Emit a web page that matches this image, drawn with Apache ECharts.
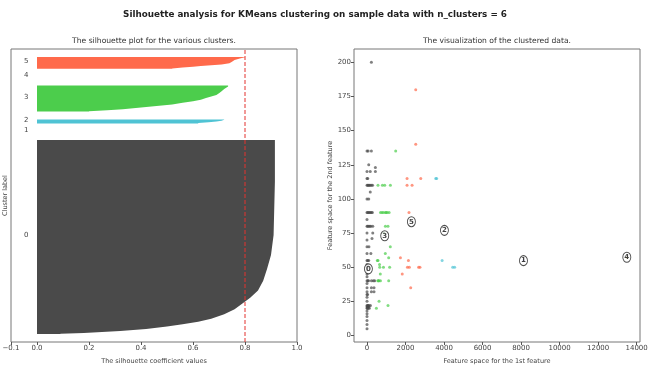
<!DOCTYPE html>
<html>
<head>
<meta charset="utf-8">
<script src="https://cdn.jsdelivr.net/npm/echarts@6/dist/echarts.min.js"></script>
<style>
html, body { margin: 0; padding: 0; background: #fff; }
#chart { width: 659px; height: 365px; }
</style>
</head>
<body>
<div id="chart"></div>
<script>
var FONT = "'DejaVu Sans', sans-serif";

var clusterIds = [0, 1, 2, 3, 4, 5];
var clusterColors = ['#4a4a4a', '#5b5bd6', '#4fc3d4', '#4ccd4c', '#d6d64c', '#ff6a4b'];

// silhouette values of each cluster, sorted ascending, as [sample count, value] runs
var silRuns0 = [[1, 0.09], [1, 0.18], [1, 0.25], [2, 0.32], [3, 0.42], [3, 0.5], [3, 0.56], [3, 0.62],
    [5, 0.67], [6, 0.72], [7, 0.76], [7, 0.79], [8, 0.82], [10, 0.85], [15, 0.87], [15, 0.885],
    [20, 0.9], [30, 0.91], [105, 0.915]];
var silRuns1 = [[1, 0]];
var silRuns2 = [[1, 0.62], [1, 0.66], [1, 0.69], [1, 0.71], [1, 0.72]];
var silRuns3 = [[1, 0.2], [1, 0.27], [2, 0.33], [2, 0.4], [2, 0.46], [2, 0.52], [2, 0.56], [2, 0.6],
    [2, 0.63], [2, 0.65], [2, 0.67], [2, 0.69], [2, 0.7], [3, 0.71], [3, 0.72], [3, 0.735]];
var silRuns4 = [[1, 0]];
var silRuns5 = [[1, 0.52], [1, 0.56], [1, 0.6], [1, 0.63], [1, 0.67], [1, 0.71], [2, 0.74], [2, 0.75],
    [2, 0.76], [2, 0.78], [1, 0.8]];
var silRuns = [silRuns0, silRuns1, silRuns2, silRuns3, silRuns4, silRuns5];
var silhouetteAvg = 0.8;

var silXTicks = [-0.1, 0, 0.2, 0.4, 0.6, 0.8, 1.0];
var featXTicks = [0, 2000, 4000, 6000, 8000, 10000, 12000, 14000];
var featYTicks = [0, 25, 50, 75, 100, 125, 150, 175, 200];

// feature space points per cluster: [1st feature, 2nd feature]
var points0 = [[228, 200], [0, 135], [60, 135], [228, 135], [90, 125], [435, 123],
    [0, 120], [170, 120], [435, 120], [0, 115], [40, 115],
    [0, 110], [40, 110], [80, 110], [120, 110], [170, 110], [230, 110], [290, 110], [170, 105],
    [0, 100], [90, 100], [0, 90], [40, 90], [80, 90], [130, 90], [180, 90], [230, 90], [280, 90],
    [0, 85], [0, 80], [40, 80], [90, 80], [150, 80], [200, 80], [300, 80], [0, 75], [300, 75],
    [260, 71], [0, 70], [0, 65], [100, 65], [0, 60], [200, 60], [0, 55], [40, 55], [90, 55],
    [0, 52], [0, 50], [30, 50], [0, 48], [0, 45], [0, 43],
    [0, 40], [40, 40], [80, 40], [230, 40], [330, 40], [400, 40], [0, 38],
    [0, 35], [228, 35], [365, 35], [0, 32], [228, 32], [365, 32], [0, 30], [30, 30], [0, 28], [0, 25],
    [0, 22], [40, 22], [60, 22], [100, 22], [180, 22], [0, 21], [40, 21], [100, 21],
    [0, 20], [30, 20], [60, 20], [120, 20], [0, 18], [0, 16], [0, 14], [0, 11], [0, 8], [0, 5]];
var points1 = [[8125, 55]];
var points2 = [[3570, 115], [3620, 115], [3900, 55], [4450, 50], [4550, 50]];
var points3 = [[1490, 135], [570, 110], [800, 110], [920, 110], [1215, 110],
    [700, 90], [780, 90], [850, 90], [950, 90], [1000, 90], [1050, 90], [1150, 90],
    [955, 80], [1090, 80], [880, 75], [1210, 65], [950, 60], [1125, 57], [570, 55], [536, 55],
    [650, 52], [660, 50], [855, 50], [1176, 50], [690, 45],
    [560, 40], [600, 40], [620, 40], [700, 40], [1127, 40], [625, 25], [1092, 22], [488, 20]];
var points4 = [[13490, 57]];
var points5 = [[2530, 180], [2530, 140], [2080, 115], [2790, 115], [2080, 110], [2340, 110], [2180, 90],
    [1735, 57], [2150, 55], [2100, 50], [2200, 50], [2680, 50], [2750, 50], [1830, 45], [2270, 35]];
var points = [points0, points1, points2, points3, points4, points5];

var centers = [[73, 48.8], [8125, 54.8], [4020, 77], [920, 73], [13490, 57.3], [2306, 83.3]];

// vertical layout of the silhouette plot (10 empty units between clusters)
var yLower = [];
var yPos = 10;
silRuns.forEach(function (runs) {
    yLower.push(yPos);
    var n = 0;
    runs.forEach(function (r) { n += r[0]; });
    yPos += n + 10;
});
var yTotal = yPos;

var myChart = echarts.init(document.getElementById('chart'));

var tickStyle = { show: true, length: 3, lineStyle: { color: '#555', width: 1 } };
var labelStyle = { color: '#444', fontSize: 7, fontFamily: FONT, margin: 3 };
var nameStyle = { color: '#444', fontSize: 6.5, fontFamily: FONT };

var series = [];

series.push({
    type: 'custom',
    xAxisIndex: 0,
    yAxisIndex: 0,
    silent: true,
    data: clusterIds.map(function (i) { return [i]; }),
    renderItem: function (params, api) {
        var i = api.value(0);
        var runs = silRuns[i];
        var y = yLower[i];
        var pts = [api.coord([0, y]), api.coord([runs[0][1], y])];
        runs.forEach(function (r) {
            pts.push(api.coord([r[1], y + r[0] / 2]));
            y += r[0];
        });
        pts.push(api.coord([runs[runs.length - 1][1], y]));
        pts.push(api.coord([0, y]));
        var size = y - yLower[i];
        var lp = api.coord([-0.05, yLower[i] + 0.5 * size]);
        return {
            type: 'group',
            children: [
                { type: 'polygon', shape: { points: pts }, style: { fill: clusterColors[i] } },
                {
                    type: 'text', x: lp[0], y: lp[1] + 2,
                    style: {
                        text: String(i), fill: '#444', font: '7px ' + FONT,
                        textAlign: 'left', textVerticalAlign: 'bottom'
                    }
                }
            ]
        };
    }
});

series.push({
    type: 'line',
    xAxisIndex: 0,
    yAxisIndex: 0,
    silent: true,
    symbol: 'none',
    data: [[silhouetteAvg, 0], [silhouetteAvg, yTotal]],
    lineStyle: { color: '#e3332f', width: 1, type: [4, 2] }
});

clusterIds.forEach(function (i) {
    series.push({
        type: 'scatter',
        xAxisIndex: 1,
        yAxisIndex: 1,
        silent: true,
        symbol: 'circle',
        symbolSize: 3,
        data: points[i],
        itemStyle: { color: clusterColors[i], opacity: 0.7 }
    });
});

series.push({
    type: 'scatter',
    xAxisIndex: 1,
    yAxisIndex: 1,
    silent: true,
    symbol: 'circle',
    symbolSize: [8, 10],
    z: 5,
    data: centers,
    itemStyle: { color: '#fff', borderColor: '#222', borderWidth: 1 },
    label: {
        show: true, position: 'inside',
        formatter: function (p) { return String(p.dataIndex); },
        color: '#111', fontSize: 7, fontWeight: 'bold', fontFamily: FONT
    }
});

function gridBox(left) {
    return {
        left: left, top: 49, width: 286, height: 293, outerBoundsMode: 'none', containLabel: false,
        show: true, borderColor: '#777', borderWidth: 1, backgroundColor: 'transparent'
    };
}

var option = {
    animation: false,
    backgroundColor: '#fff',
    title: [
        { text: 'Silhouette analysis for KMeans clustering on sample data with n_clusters = 6', left: 315, top: 10, textAlign: 'center', padding: 0,
          textStyle: { fontSize: 8.8, fontWeight: 'bold', color: '#222', fontFamily: FONT } },
        { text: 'The silhouette plot for the various clusters.', left: 154, top: 37, textAlign: 'center', padding: 0,
          textStyle: { fontSize: 7.6, fontWeight: 'normal', color: '#333', fontFamily: FONT } },
        { text: 'The visualization of the clustered data.', left: 497, top: 37, textAlign: 'center', padding: 0,
          textStyle: { fontSize: 7.6, fontWeight: 'normal', color: '#333', fontFamily: FONT } }
    ],
    grid: [gridBox(11), gridBox(354)],
    xAxis: [
        {
            gridIndex: 0, type: 'value', min: -0.1, max: 1.0,
            name: 'The silhouette coefficient values', nameLocation: 'middle', nameGap: 16, nameTextStyle: nameStyle,
            axisLine: { show: false, onZero: false }, splitLine: { show: false },
            axisTick: Object.assign({ customValues: silXTicks }, tickStyle),
            axisLabel: Object.assign({
                customValues: silXTicks,
                formatter: function (v) { return v.toFixed(1).replace('-', '\u2212'); }
            }, labelStyle)
        },
        {
            gridIndex: 1, type: 'value', min: -675, max: 14175,
            name: 'Feature space for the 1st feature', nameLocation: 'middle', nameGap: 16, nameTextStyle: nameStyle,
            axisLine: { show: false, onZero: false }, splitLine: { show: false },
            axisTick: Object.assign({ customValues: featXTicks }, tickStyle),
            axisLabel: Object.assign({
                customValues: featXTicks,
                formatter: function (v) { return String(v); }
            }, labelStyle)
        }
    ],
    yAxis: [
        {
            gridIndex: 0, type: 'value', min: 0, max: yTotal,
            name: 'Cluster label', nameLocation: 'middle', nameGap: 2, nameTextStyle: nameStyle,
            axisLine: { show: false, onZero: false }, splitLine: { show: false },
            axisTick: { show: false }, axisLabel: { show: false }
        },
        {
            gridIndex: 1, type: 'value', min: -4.75, max: 209.75,
            name: 'Feature space for the 2nd feature', nameLocation: 'middle', nameGap: 20, nameTextStyle: nameStyle,
            axisLine: { show: false, onZero: false }, splitLine: { show: false },
            axisTick: Object.assign({ customValues: featYTicks }, tickStyle),
            axisLabel: Object.assign({
                customValues: featYTicks,
                formatter: function (v) { return String(v); }
            }, labelStyle)
        }
    ],
    series: series
};

myChart.setOption(option);
</script>
</body>
</html>
